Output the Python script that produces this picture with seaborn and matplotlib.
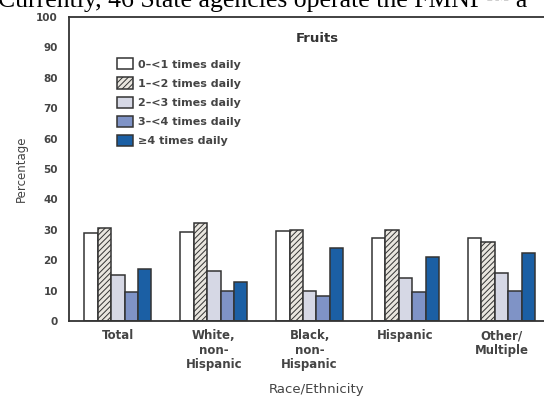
import pandas as pd
import matplotlib
matplotlib.use('Agg')
import matplotlib.pyplot as plt
import seaborn as sns

groups = ['Total', 'White,\nnon-\nHispanic', 'Black,\nnon-\nHispanic', 'Hispanic', 'Other/\nMultiple']
freqs = ['0–<1 times daily', '1–<2 times daily', '2–<3 times daily',
         '3–<4 times daily', '≥4 times daily']
vals_0_1 = [28.8, 29.2, 29.7, 27.2, 27.2]
vals_1_2 = [30.7, 32.1, 29.8, 29.9, 26.0]
vals_2_3 = [15.1, 16.5, 10.0, 14.0, 15.7]
vals_3_4 = [9.6, 10.0, 8.2, 9.4, 10.0]
vals_4 = [17.1, 12.9, 24.1, 21.2, 22.5]
colors = ['#ffffff', '#e9e6df', '#d6d8e5', '#7f93c6', '#1b5fa4']

rows = []
for f, vals in zip(freqs, [vals_0_1, vals_1_2, vals_2_3, vals_3_4, vals_4]):
    for g, v in zip(groups, vals):
        rows.append({'group': g, 'freq': f, 'pct': v})
df = pd.DataFrame(rows)

sns.set_theme(style='white')
plt.rcParams['font.family'] = ['DejaVu Sans']
plt.rcParams['hatch.linewidth'] = 0.7

fig = plt.figure(figsize=(5.44, 3.96), dpi=100)
# axes runs past the right edge of the picture, like the cropped original
ax = fig.add_axes([69 / 544, 1 - 321 / 396, 490 / 544, (321 - 17) / 396])

sns.barplot(data=df, x='group', y='pct', hue='freq', palette=colors,
            width=0.7, gap=0, saturation=1, edgecolor='#333333', linewidth=1.1,
            legend=False, ax=ax)

for bar in ax.containers[1]:
    bar.set_hatch('//////')
    if hasattr(bar, 'set_hatchcolor'):
        bar.set_hatchcolor('#9a978f')

ax.set_ylim(0, 100)
ax.set_yticks(range(0, 101, 10))
ax.set_xlim(-0.51, 4.6)
for s in ['top', 'left', 'bottom']:
    ax.spines[s].set_color('#333333')
    ax.spines[s].set_linewidth(1.3)
ax.spines['right'].set_visible(False)
ax.tick_params(axis='both', direction='out', length=4, width=1.2, color='#333333',
               labelcolor='#444444', pad=2)
ax.tick_params(axis='y', length=6, labelsize=7.5)
ax.tick_params(axis='x', labelsize=8.5, pad=2)
for lab in ax.get_xticklabels() + ax.get_yticklabels():
    lab.set_fontweight('bold')
for lab in ax.get_xticklabels():
    lab.set_linespacing(1.15)

ax.set_xlabel('Race/Ethnicity', fontsize=9.5, color='#444444')
ax.xaxis.set_label_coords((317 - 69) / 490, -(389 - 321) / 304)
ax.xaxis.label.set_va('center')
ax.set_ylabel('Percentage', fontsize=8.5, color='#444444', labelpad=6)

fig.text(317 / 544, 1 - 38 / 396, 'Fruits', ha='center', va='center',
         fontsize=9.5, fontweight='bold', color='#333333')

leg = ax.legend(ax.containers, freqs, loc='upper left', bbox_to_anchor=(0.086, 0.882),
                frameon=False, fontsize=8, handlelength=1.5, handleheight=1.15,
                handletextpad=0.45, labelspacing=0.7, borderpad=0)
for t in leg.get_texts():
    t.set_color('#444444')
    t.set_fontweight('bold')

# page text above the figure, cut off by the crop
fig.text(-2 / 544, 1 - 7 / 396, 'Currently, 46 State agencies operate the FMNP\u2122 a',
         fontsize=18.5, family=['Liberation Serif'], color='black', va='baseline')

fig.savefig('out.png', dpi=100)
